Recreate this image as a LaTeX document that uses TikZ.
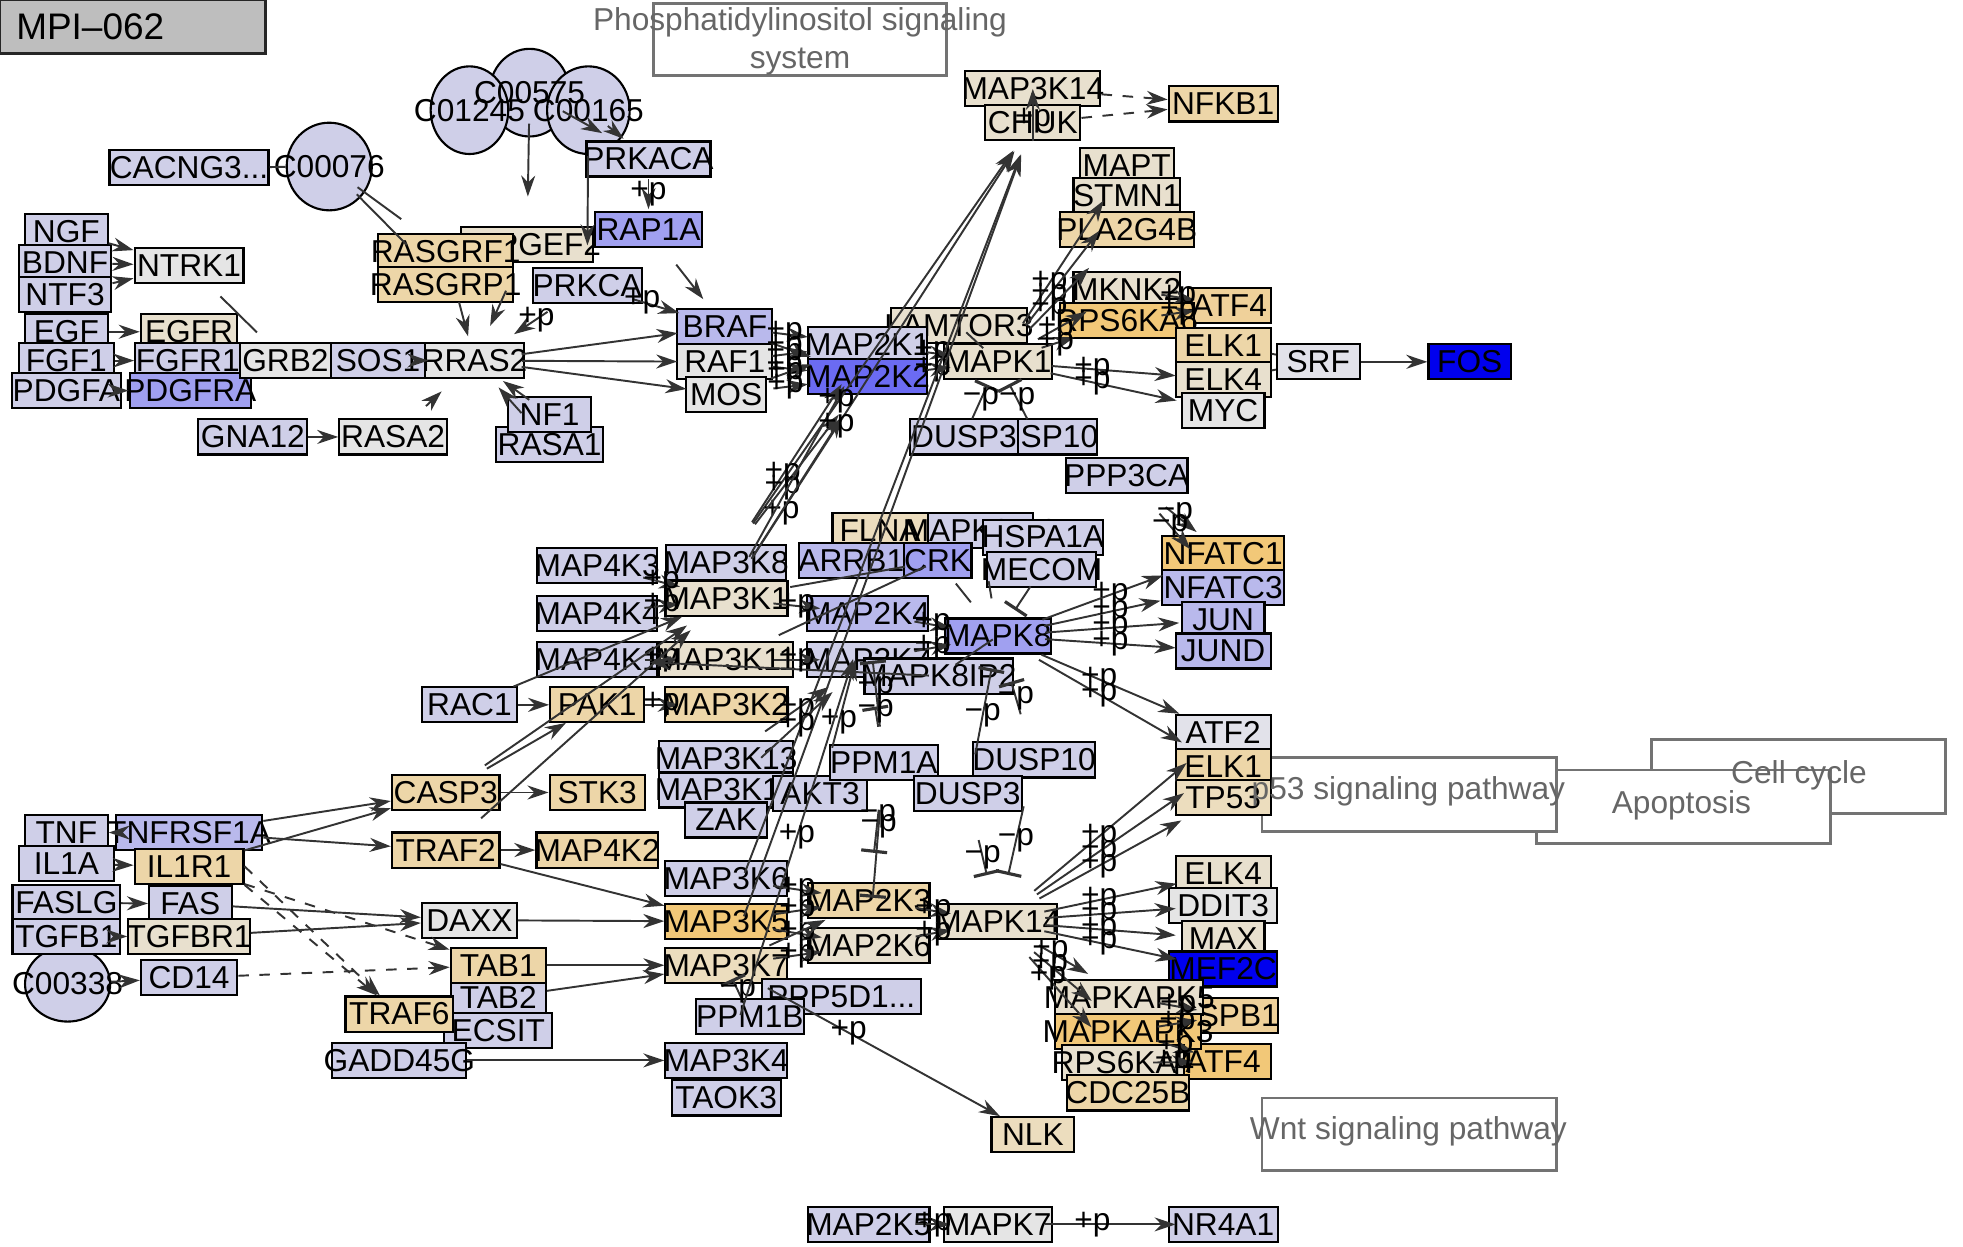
\documentclass[tikz,border=0pt]{standalone}
\usepackage{fontspec}
\setmainfont{Liberation Sans}
\usepackage{tikz}
\usetikzlibrary{arrows.meta,shapes.geometric}
\definecolor{cLav}{HTML}{CFCFE8}
\definecolor{cLavTwo}{HTML}{B9B9EC}
\definecolor{cBluOne}{HTML}{A0A0F0}
\definecolor{cBluTwo}{HTML}{6B6BF2}
\definecolor{cBluThree}{HTML}{0000EE}
\definecolor{cGry}{HTML}{E5E5E5}
\definecolor{cGryTwo}{HTML}{E2E2EA}
\definecolor{cBge}{HTML}{E8E0CE}
\definecolor{cTan}{HTML}{EDD6A8}
\definecolor{cTanTwo}{HTML}{ECDDBE}
\definecolor{cOrg}{HTML}{F2C878}
\definecolor{cOrgTwo}{HTML}{EFD19A}
\definecolor{cTtl}{HTML}{BEBEBE}
\definecolor{lineG}{HTML}{333333}
\newcommand\gfont{\fontsize{9pt}{9.5pt}\selectfont}
\newcommand\pfont{\fontsize{9pt}{10.8pt}\selectfont}
\newcommand\tfont{\fontsize{10.5pt}{12pt}\selectfont}
\tikzset{
  bw/.style={minimum width=#1*0.125mm},
  bh/.style={minimum height=#1*0.125mm},
  gene/.style={rectangle, draw=black, line width=0.6pt, fill=#1, minimum height=3.5mm, inner xsep=-12mm, inner ysep=0pt, font=\gfont},
  cpd/.style={ellipse, draw=black, line width=0.6pt, fill=cLav, inner xsep=-12mm, inner ysep=0pt, font=\gfont},
  pway/.style={rectangle, draw=black!55, line width=0.8pt, fill=white},
  ptxt/.style={font=\pfont, text=black!60, inner sep=0pt, align=center},
  ttl/.style={rectangle, draw=black!85, line width=0.8pt, fill=cTtl, font=\tfont, inner xsep=1.625mm, inner ysep=0pt, text width=23.25mm, align=left},
  ar/.style={draw=lineG, line width=0.55pt, -{Stealth[length=2.1mm, width=1.4mm]}},
  inh/.style={draw=lineG, line width=0.55pt, -{Bar[width=2.6mm, line width=0.9pt]}},
  ln/.style={draw=lineG, line width=0.55pt},
  cc/.style={shorten <=4.75mm, shorten >=4.75mm},
  lab/.style={font=\gfont, inner sep=0pt}
}
\begin{document}
\begin{tikzpicture}[x=0.125mm, y=-0.125mm]
  \useasboundingbox (0,0) rectangle (1568,996);
  \node[pway, bw=235, bh=59] (cellcyc) at (1436.5,620.5) {};
  \node[pway, bw=235, bh=59] (apopt) at (1344.5,644.5) {};
  \node[pway, bw=235, bh=59] (ptfs) at (1125.5,634.5) {};
  \node[pway, bw=235, bh=58] (wnt) at (1125.5,906) {};
  \node[pway, bw=234, bh=57] (pisys) at (639,31.5) {};
  \node[ttl, bh=43] (title) at (106,21.5) {MPI–062};

  \node[cpd, bw=64, bh=70] (C00575) at (423,74) {};
  \node[cpd, bw=62, bh=70] (C01245) at (375,88) {};
  \node[cpd, bw=66, bh=70] (C00165) at (470,88) {};
  \node[lab] (C00575t) at (C00575) {C00575};
  \node[lab] (C01245t) at (C01245) {C01245};
  \node[lab] (C00165t) at (C00165) {C00165};
  \node[cpd, bw=68, bh=70] (C00076) at (263,133) {C00076};
  \node[cpd, bw=68, bh=60] (C00338) at (54,786) {C00338};

  \node[gene=cLav, bw=66] (NGF) at (53,185) {NGF};
  \node[gene=cLav, bw=74] (BDNF) at (52,210) {BDNF};
  \node[gene=cLav, bw=74] (NTF3) at (52,235) {NTF3};
  \node[gene=cGry, bw=87] (NTRK1) at (151,212) {NTRK1};
  \node[gene=cLav, bw=66] (EGF) at (53,265) {EGF};
  \node[gene=cBge, bw=77] (EGFR) at (151,265) {EGFR};
  \node[gene=cLav, bw=76] (FGF1) at (53,288) {FGF1};
  \node[gene=cLav, bw=84] (FGFR1) at (150,288) {FGFR1};
  \node[gene=cLav, bw=87] (PDGFA) at (53,312) {PDGFA};
  \node[gene=cBluOne, bw=97] (PDGFRA) at (152,312) {PDGFRA};
  \node[gene=cGry, bw=73] (GRB2) at (228,288) {GRB2};
  \node[gene=cLav, bw=75] (SOS1) at (302,288) {SOS1};
  \node[gene=cGry, bw=79] (RRAS2) at (379,288) {RRAS2};
  \node[gene=cLav, bw=87] (GNA12) at (202,349) {GNA12};
  \node[gene=cGry, bw=86] (RASA2) at (314,349) {RASA2};
  \node[gene=cLav, bw=86] (RASA1) at (439,355) {RASA1};
  \node[gene=cLav, bw=66] (NF1) at (439,331) {NF1};
  \node[gene=cLav, bw=127] (CACNG3) at (151,134) {CACNG3...};
  \node[gene=cBge, bw=106] (RAPGEF2) at (421,195) {RAPGEF2};
  \node[gene=cTan, bw=108] (RASGRF1) at (356,201) {RASGRF1};
  \node[gene=cTan, bw=108] (RASGRP1) at (356,227) {RASGRP1};
  \node[gene=cLav, bw=99] (PRKACA) at (518,127) {PRKACA};
  \node[gene=cBluOne, bw=86] (RAP1A) at (518,183) {RAP1A};
  \node[gene=cLav, bw=87] (PRKCA) at (469,228) {PRKCA};
  \node[gene=cLavTwo, bw=76] (BRAF) at (579,261) {BRAF};
  \node[gene=cGry, bw=76] (RAF1) at (579,289) {RAF1};
  \node[gene=cGry, bw=64] (MOS) at (580,315) {MOS};
  \node[gene=cBge, bw=108] (LAMTOR3) at (766,260) {LAMTOR3};
  \node[gene=cLav, bw=95] (MAP2K1) at (693,275) {MAP2K1};
  \node[gene=cBluTwo, bw=95] (MAP2K2) at (693,301) {MAP2K2};
  \node[gene=cBge, bw=86] (MAPK1) at (797,289) {MAPK1};
  \node[gene=cBge, bw=108] (MAP3K14) at (825,71) {MAP3K14};
  \node[gene=cBge, bw=76] (CHUK) at (825,98) {CHUK};
  \node[gene=cTan, bw=87] (NFKB1) at (977,83) {NFKB1};
  \node[gene=cBge, bw=75] (MAPT) at (900,132) {MAPT};
  \node[gene=cBge, bw=85] (STMN1) at (900,156) {STMN1};
  \node[gene=cTan, bw=107] (PLA2G4B) at (900,183) {PLA2G4B};
  \node[gene=cOrgTwo, bw=66] (ATF4a) at (982,244) {ATF4};
  \node[gene=cBge, bw=85] (MKNK2) at (900,231) {MKNK2};
  \node[gene=cOrg, bw=107] (RPS6KA6) at (900,256) {RPS6KA6};
  \node[gene=cTan, bw=76] (ELK1a) at (977,276) {ELK1};
  \node[gene=cBge, bw=76] (ELK4a) at (977,303) {ELK4};
  \node[gene=cGry, bw=66] (MYC) at (977,328) {MYC};
  \node[gene=cGryTwo, bw=66] (SRF) at (1053,289) {SRF};
  \node[gene=cBluThree, bw=66] (FOS) at (1174,289) {FOS};
  \node[gene=cLav, bw=96] (DUSP10a) at (828,349) {DUSP10};
  \node[gene=cLav, bw=86] (DUSP3a) at (770,349) {DUSP3};
  \node[gene=cLav, bw=97] (PPP3CA) at (900,380) {PPP3CA};
  \node[gene=cTanTwo, bw=76] (FLNA) at (703,424) {FLNA};
  \node[gene=cLav, bw=84] (MAPK8IP3) at (783,424) {MAPK8IP3};
  \node[gene=cLav, bw=96] (HSPA1A) at (833,429) {HSPA1A};
  \node[gene=cLav, bw=87] (MECOM) at (832,455) {MECOM};
  \node[gene=cLavTwo, bw=84] (ARRB1) at (680,448) {ARRB1};
  \node[gene=cBluOne, bw=54] (CRK) at (749,448) {CRK};
  \node[gene=cLav, bw=96] (MAP4K3) at (477,452) {MAP4K3};
  \node[gene=cLav, bw=96] (MAP3K8) at (580,449) {MAP3K8};
  \node[gene=cBge, bw=98] (MAP3K1) at (580,478) {MAP3K1};
  \node[gene=cLav, bw=96] (MAP4K4) at (477,490) {MAP4K4};
  \node[gene=cLavTwo, bw=97] (MAP2K4) at (693,490) {MAP2K4};
  \node[gene=cBluOne, bw=85] (MAPK8) at (797,508) {MAPK8};
  \node[gene=cLav, bw=96] (MAP4K1) at (477,527) {MAP4K1};
  \node[gene=cBge, bw=107] (MAP3K11) at (580,527) {MAP3K11};
  \node[gene=cLav, bw=97] (MAP2K7) at (693,527) {MAP2K7};
  \node[gene=cLav, bw=119] (MAPK8IP2) at (750,540) {MAPK8IP2};
  \node[gene=cOrg, bw=97] (NFATC1) at (977,442) {NFATC1};
  \node[gene=cLavTwo, bw=97] (NFATC3) at (977,469) {NFATC3};
  \node[gene=cLavTwo, bw=66] (JUN) at (977,495) {JUN};
  \node[gene=cLavTwo, bw=76] (JUND) at (977,520) {JUND};
  \node[gene=cLav, bw=76] (RAC1) at (375,563) {RAC1};
  \node[gene=cTan, bw=75] (PAK1) at (477,563) {PAK1};
  \node[gene=cTan, bw=98] (MAP3K2) at (580,563) {MAP3K2};
  \node[gene=cLav, bw=107] (MAP3K13) at (580,606) {MAP3K13};
  \node[gene=cLav, bw=107] (MAP3K12) at (580,631) {MAP3K12};
  \node[gene=cLav, bw=65] (ZAK) at (580,655) {ZAK};
  \node[gene=cLav, bw=75] (AKT3) at (655,634) {AKT3};
  \node[gene=cLav, bw=86] (PPM1A) at (706,609) {PPM1A};
  \node[gene=cLav, bw=97] (DUSP10b) at (826,607) {DUSP10};
  \node[gene=cLav, bw=86] (DUSP3b) at (773,634) {DUSP3};
  \node[gene=cGryTwo, bw=76] (ATF2) at (977,585) {ATF2};
  \node[gene=cTan, bw=76] (ELK1b) at (977,612) {ELK1};
  \node[gene=cTanTwo, bw=76] (TP53) at (977,637) {TP53};
  \node[gene=cTan, bw=86] (CASP3) at (356,633) {CASP3};
  \node[gene=cTan, bw=76] (STK3) at (477,633) {STK3};
  \node[gene=cTan, bw=86] (TRAF2) at (356,679) {TRAF2};
  \node[gene=cTan, bw=97] (MAP4K2) at (477,679) {MAP4K2};
  \node[gene=cLav, bw=66] (TNF) at (53,665) {TNF};
  \node[gene=cLavTwo, bw=117] (TNFRSF1A) at (151,665) {TNFRSF1A};
  \node[gene=cLav, bw=76] (IL1A) at (53,690) {IL1A};
  \node[gene=cTan, bw=87] (IL1R1) at (151,692) {IL1R1};
  \node[gene=cLav, bw=86] (FASLG) at (53,721) {FASLG};
  \node[gene=cLav, bw=66] (FAS) at (152,722) {FAS};
  \node[gene=cLav, bw=86] (TGFB1) at (53,748) {TGFB1};
  \node[gene=cBge, bw=97] (TGFBR1) at (151,748) {TGFBR1};
  \node[gene=cLav, bw=77] (CD14) at (151,781) {CD14};
  \node[gene=cGry, bw=76] (DAXX) at (375,735) {DAXX};
  \node[gene=cLav, bw=76] (TAB2) at (398,797) {TAB2};
  \node[gene=cTan, bw=76] (TAB1) at (398,771) {TAB1};
  \node[gene=cLav, bw=86] (ECSIT) at (398,823) {ECSIT};
  \node[gene=cTan, bw=86] (TRAF6) at (319,810) {TRAF6};
  \node[gene=cLav, bw=107] (GADD45G) at (319,847) {GADD45G};
  \node[gene=cLav, bw=97] (MAP3K6) at (580,702) {MAP3K6};
  \node[gene=cOrg, bw=97] (MAP3K5) at (580,736) {MAP3K5};
  \node[gene=cTanTwo, bw=97] (MAP3K7) at (580,771) {MAP3K7};
  \node[gene=cTan, bw=97] (MAP2K3) at (694,719) {MAP2K3};
  \node[gene=cBge, bw=97] (MAP2K6) at (694,755) {MAP2K6};
  \node[gene=cBge, bw=95] (MAPK14) at (797,736) {MAPK14};
  \node[gene=cLav, bw=127] (PPP5D1) at (672,796) {PPP5D1...};
  \node[gene=cLav, bw=86] (PPM1B) at (599,812) {PPM1B};
  \node[gene=cLav, bw=97] (MAP3K4) at (580,847) {MAP3K4};
  \node[gene=cLav, bw=87] (TAOK3) at (580,877) {TAOK3};
  \node[gene=cTanTwo, bw=66] (NLK) at (825,906) {NLK};
  \node[gene=cLav, bw=97] (MAP2K5) at (694,978) {MAP2K5};
  \node[gene=cGry, bw=86] (MAPK7) at (797,978) {MAPK7};
  \node[gene=cLav, bw=87] (NR4A1) at (977,978) {NR4A1};
  \node[gene=cBge, bw=76] (ELK4b) at (977,698) {ELK4};
  \node[gene=cGry, bw=86] (DDIT3) at (977,723) {DDIT3};
  \node[gene=cBge, bw=66] (MAX) at (977,750) {MAX};
  \node[gene=cBluThree, bw=86] (MEF2C) at (977,774) {MEF2C};
  \node[gene=cOrgTwo, bw=81] (HSPB1) at (980,811) {HSPB1};
  \node[gene=cOrg, bw=76] (ATF4b) at (977,848) {ATF4};
  \node[gene=cBge, bw=118] (MAPKAPK5) at (902,797) {MAPKAPK5};
  \node[gene=cOrg, bw=117] (MAPKAPK3) at (901,824) {MAPKAPK3};
  \node[gene=cBge, bw=97] (RPS6KA4) at (897,849) {RPS6KA4};
  \node[gene=cTan, bw=97] (CDC25B) at (901,873) {CDC25B};

  \node[ptxt] (cellcyct) at (1437,619) {Cell cycle};
  \node[ptxt] (apoptt) at (1343,643) {Apoptosis};
  \node[ptxt] (ptfst) at (1125,632) {p53 signaling pathway};
  \node[ptxt] (wntt) at (1125,904) {Wnt signaling pathway};
  \node[ptxt] (pisyst) at (639,33) {Phosphatidylinositol signaling\\system};

  \draw[ar] (NGF) -- (NTRK1);
  \draw[ar] (BDNF) -- (NTRK1);
  \draw[ar] (NTF3) -- (NTRK1);
  \draw[ar] (EGF) -- (EGFR);
  \draw[ar] (FGF1) -- (FGFR1);
  \draw[ar] (PDGFA) -- (PDGFRA);
  \draw[ar] (GNA12) -- (RASA2);
  \draw[ln] (CACNG3) -- (C00076);
  \draw[ln, shorten <=4.4mm, shorten >=4mm] (NTRK1.center) -- (GRB2.center);
  \draw[ln, shorten <=3.5mm, shorten >=5.5mm] (C00076.center) -- (RASGRF1.center);
  \draw[ln, shorten <=3.9mm, shorten >=5.5mm] (C00076.center) -- (RASGRP1.center);
  \draw[ar, shorten <=3.1mm, shorten >=4.75mm] (C00575.center) -- (RAPGEF2.center);
  \draw[ar, shorten <=3.8mm, shorten >=5.3mm] (C00575.center) -- (PRKACA.center);
  \draw[ar, shorten <=2.5mm, shorten >=3.2mm] (C00165.center) -- (PRKACA.center);
  \draw[ar, shorten <=4.6mm, shorten >=4mm] (C00165.center) -- (PRKCA.center);
  \draw[ar, shorten <=2mm, shorten >=2mm] (PRKACA.center) -- node[lab]{+p} (RAP1A.center);
  \draw[ar, shorten <=4.5mm, shorten >=3.5mm] (RAP1A.center) -- (BRAF.center);
  \draw[ar, cc] (PRKCA.center) -- node[lab, pos=.4]{+p} (BRAF.center);
  \draw[ar, cc] (PRKCA.center) -- node[lab, pos=.45]{+p} (RRAS2.center);
  \draw[ar, shorten <=5.2mm, shorten >=2.5mm] (RASGRF1.center) -- (RRAS2.center);
  \draw[ar, shorten <=5.1mm, shorten >=3.8mm] (RAPGEF2.center) -- (RRAS2.center);
  \draw[ar, shorten <=2.5mm, shorten >=3.5mm] (NF1.center) -- (RRAS2.center);
  \draw[ar, shorten <=4.2mm, shorten >=3.6mm] (RASA1.center) -- (RRAS2.center);
  \draw[ar, shorten <=4.5mm, shorten >=4.5mm] (RASA2.center) -- (RRAS2.center);
  \draw[ar, shorten <=4.4mm, shorten >=4.6mm] (SOS1.center) -- (RRAS2.center);
  \draw[ar, cc] (RRAS2.center) -- (BRAF.center);
  \draw[ar, cc] (RRAS2.center) -- (RAF1.center);
  \draw[ar, cc, shorten >=4mm] (RRAS2.center) -- (MOS.center);

  \draw[ar, cc, shorten >=6mm] (BRAF.center) -- node[lab, pos=.42]{+p} (MAP2K1.center);
  \draw[ar, cc, shorten >=6mm] (BRAF.center) -- node[lab, pos=.42]{+p} (MAP2K2.center);
  \draw[ar, cc, shorten >=6mm] (RAF1.center) -- node[lab, pos=.42]{+p} (MAP2K1.center);
  \draw[ar, cc, shorten >=6mm] (RAF1.center) -- node[lab, pos=.42]{+p} (MAP2K2.center);
  \draw[ar, cc, shorten >=6mm] (MOS.center) -- node[lab, pos=.42]{+p} (MAP2K1.center);
  \draw[ar, cc, shorten >=6mm] (MOS.center) -- node[lab, pos=.42]{+p} (MAP2K2.center);
  \draw[ar, cc, shorten <=6mm] (MAP2K1.center) -- node[lab]{+p} (MAPK1.center);
  \draw[ar, cc, shorten <=6mm] (MAP2K2.center) -- node[lab]{+p} (MAPK1.center);
  \draw[ln, shorten <=1mm, shorten >=2mm] (LAMTOR3.center) -- (MAPK1.center);
  \draw[ar, shorten <=4.6mm, shorten >=4.2mm] (MAPK1.center) -- node[lab, pos=.4]{+p} (MAPT.center);
  \draw[ar, shorten <=4.6mm, shorten >=4.5mm] (MAPK1.center) -- node[lab, pos=.4]{+p} (STMN1.center);
  \draw[ar, shorten <=4.6mm, shorten >=5.4mm] (MAPK1.center) -- node[lab, pos=.4]{+p} (PLA2G4B.center);
  \draw[ar, shorten <=4.6mm, shorten >=4.6mm] (MAPK1.center) -- node[lab, pos=.45]{+p} (MKNK2.center);
  \draw[ar, shorten <=4.6mm, shorten >=5.5mm] (MAPK1.center) -- node[lab, pos=.45]{+p} (RPS6KA6.center);
  \draw[ar, shorten <=3.5mm, shorten >=3.5mm] (MKNK2.center) -- node[lab]{+p} (ATF4a.center);
  \draw[ar, shorten <=3.5mm, shorten >=3.5mm] (RPS6KA6.center) -- node[lab]{+p} (ATF4a.center);
  \draw[ar, cc, shorten <=5.4mm] (MAPK1.center) -- node[lab, pos=.42]{+p} (ELK4a.center);
  \draw[ar, cc, shorten <=5.4mm] (MAPK1.center) -- node[lab, pos=.42]{+p} (MYC.center);
  \draw[ln] (ELK1a) -- (SRF);
  \draw[ln] (ELK4a) -- (SRF);
  \draw[ar] (SRF) -- (FOS);
  \draw[inh, shorten <=2mm, shorten >=2.5mm] (DUSP3a.center) -- node[lab]{−p} (MAPK1.center);
  \draw[inh, shorten <=2mm, shorten >=2.5mm] (DUSP10a.center) -- node[lab]{−p} (MAPK1.center);

  \draw[ar, dashed] (MAP3K14) -- (NFKB1);
  \draw[ar, dashed] (CHUK) -- (NFKB1);
  \draw[ar] (CHUK.south) -- node[lab, pos=.4]{+p} (MAP3K14.center);
  \draw[ar, shorten <=4.7mm, shorten >=3.4mm] (MAP3K8.center) -- (CHUK.center);
  \draw[ar, shorten <=4.7mm, shorten >=3.4mm] (MAP3K1.center) -- node[lab, pos=.18]{+p} (CHUK.center);
  \draw[ar, shorten <=5.2mm, shorten >=3.4mm] (MAP3K5.center) -- (CHUK.center);
  \draw[ar, shorten <=5.2mm, shorten >=3.4mm] (MAP3K7.center) -- (CHUK.center);
  \draw[ar, cc] (MAP3K8.center) -- node[lab, pos=.4]{+p} (MAP2K1.center);
  \draw[ar, cc] (MAP3K8.center) -- node[lab, pos=.4]{+p} (MAP2K2.center);
  \draw[ar, cc] (MAP3K1.center) -- node[lab, pos=.78]{+p} (MAP2K1.center);
  \draw[ar, cc] (MAP3K1.center) -- node[lab, pos=.78]{+p} (MAP2K2.center);

  \draw[ar, cc] (MAP4K3.center) -- node[lab]{+p} (MAP3K1.center);
  \draw[ar, cc] (MAP4K4.center) -- node[lab]{+p} (MAP3K1.center);
  \draw[ar, cc] (MAP4K1.center) -- node[lab]{+p} (MAP3K11.center);
  \draw[ar, shorten <=1mm, shorten >=5.25mm] (MAPK8IP2.center) -- (MAP4K1.center);
  \draw[ar, cc] (MAP3K1.center) -- node[lab]{+p} (MAP2K4.center);
  \draw[ar, cc] (MAP3K11.center) -- node[lab]{+p} (MAP2K7.center);
  \draw[ar, cc] (MAP2K4.center) -- node[lab]{+p} (MAPK8.center);
  \draw[ar, cc] (MAP2K7.center) -- node[lab]{+p} (MAPK8.center);
  \draw[ln, shorten <=2mm, shorten >=0.6mm] (MAPK8IP2.center) -- (MAPK8.center);
  \draw[ln, shorten <=3.3mm, shorten >=6.5mm] (CRK.center) -- (MAP3K1.center);
  \draw[ln, shorten <=1.3mm, shorten >=5.8mm] (CRK.center) -- (MAP3K11.center);
  \draw[ln, shorten <=2.9mm, shorten >=4.3mm] (CRK.center) -- (MAPK8.center);
  \draw[ln, shorten <=5.1mm, shorten >=3.8mm] (MAPK8IP3.center) -- (MAPK8.center);
  \draw[inh, shorten <=2mm, shorten >=3.1mm] (MECOM.center) -- (MAPK8.center);
  \draw[ar, cc, shorten >=6.4mm] (MAPK8.center) -- node[lab]{+p} (NFATC1.center);
  \draw[ar, cc, shorten >=6.4mm] (MAPK8.center) -- node[lab]{+p} (NFATC3.center);
  \draw[ar, cc, shorten >=4.4mm] (MAPK8.center) -- node[lab]{+p} (JUN.center);
  \draw[ar, cc] (MAPK8.center) -- node[lab]{+p} (JUND.center);
  \draw[ar, cc] (MAPK8.center) -- node[lab, pos=.45]{+p} (ATF2.center);
  \draw[ar, cc] (MAPK8.center) -- node[lab, pos=.45]{+p} (ELK1b.center);
  \draw[ar, shorten <=5mm, shorten >=3.4mm] (PPP3CA.center) -- node[lab]{−p} (NFATC1.center);
  \draw[ar, shorten <=5mm, shorten >=5mm] (PPP3CA.center) -- node[lab, pos=.45]{−p} (NFATC3.center);
  \draw[inh, cc] (DUSP10b.center) -- node[lab]{−p} (MAPK8.center);
  \draw[inh, shorten <=4mm, shorten >=3.3mm] (DUSP3b.center) -- node[lab]{−p} (MAPK8.center);
  \draw[inh, cc] (DUSP10b.center) -- node[lab]{−p} (MAPK14.center);
  \draw[inh, cc] (DUSP3b.center) -- node[lab]{−p} (MAPK14.center);
  \draw[inh, shorten <=3.6mm, shorten >=4.75mm] (PPM1A.center) -- node[lab]{−p} (MAP2K4.center);
  \draw[inh, shorten <=3.6mm, shorten >=4.75mm] (PPM1A.center) -- node[lab]{−p} (MAP2K7.center);
  \draw[inh, cc] (PPM1A.center) -- node[lab, pos=.39]{−p} (MAP2K3.center);
  \draw[inh, cc] (PPM1A.center) -- node[lab, pos=.35]{−p} (MAP2K6.center);
  \draw[inh, shorten <=1.5mm, shorten >=1.5mm] (PPM1B.center) -- node[lab]{−p} (MAP3K7.center);

  \draw[ar] (RAC1) -- (PAK1);
  \draw[ar, cc] (RAC1.center) -- (MAP3K1.center);
  \draw[ar, cc] (PAK1.center) -- node[lab]{+p} (MAP3K2.center);
  \draw[ar, shorten <=4.75mm, shorten >=3.6mm] (CASP3.center) -- (PAK1.center);
  \draw[ar, cc] (CASP3.center) -- (MAP3K1.center);
  \draw[ar, cc] (TRAF2.center) -- (MAP3K1.center);
  \draw[ar] (CASP3) -- (STK3);
  \draw[ar] (TRAF2) -- (MAP4K2);
  \draw[ar] (TNFRSF1A) -- (TNF);
  \draw[ar] (IL1A) -- (IL1R1);
  \draw[ar] (FASLG) -- (FAS);
  \draw[ar] (TGFB1) -- (TGFBR1);
  \draw[ar] (C00338) -- (CD14);
  \draw[ar] (TNFRSF1A) -- (CASP3);
  \draw[ar] (IL1R1) -- (CASP3);
  \draw[ar] (TNFRSF1A) -- (TRAF2);
  \draw[ar] (TRAF2) -- (MAP3K5);
  \draw[ar] (FAS) -- (DAXX);
  \draw[ar] (TGFBR1) -- (DAXX);
  \draw[ar] (DAXX) -- (MAP3K5);
  \draw[ar, dashed] (IL1R1) -- (TAB1);
  \draw[ar, dashed] (IL1R1.east) -- (TRAF6);
  \draw[ar, dashed] (IL1R1.south east) -- (TRAF6);
  \draw[ar, dashed] (CD14) -- (TAB1);
  \draw[ar] (TAB1) -- (MAP3K7);
  \draw[ar] (TAB2) -- (MAP3K7);
  \draw[ar] (GADD45G) -- (MAP3K4);

  \draw[ar, cc] (MAP3K6.center) -- node[lab]{+p} (MAP2K3.center);
  \draw[ar, cc] (MAP3K5.center) -- node[lab]{+p} (MAP2K3.center);
  \draw[ar, cc] (MAP3K5.center) -- node[lab]{+p} (MAP2K6.center);
  \draw[ar, cc] (MAP3K7.center) -- (MAP2K3.center);
  \draw[ar, cc] (MAP3K7.center) -- node[lab]{+p} (MAP2K6.center);
  \draw[ar, cc] (MAP2K3.center) -- node[lab]{+p} (MAPK14.center);
  \draw[ar, cc] (MAP2K6.center) -- node[lab]{+p} (MAPK14.center);
  \draw[ar, cc] (MAP3K13.center) -- node[lab]{+p} (MAP2K7.center);
  \draw[ar, cc] (MAP3K12.center) -- node[lab]{+p} (MAP2K7.center);
  \draw[ar, cc] (AKT3.center) -- node[lab, pos=.4]{+p} (MAP2K4.center);
  \draw[ar, cc] (MAP3K4.center) -- node[lab]{+p} (MAP2K4.center);
  \draw[ar, cc, shorten >=3.75mm] (MAP3K7.center) -- node[lab, pos=.4]{+p} (NLK.center);

  \draw[ar, cc] (MAPK14.center) -- node[lab, pos=.45]{+p} (ATF2.center);
  \draw[ar, cc] (MAPK14.center) -- node[lab, pos=.45]{+p} (ELK1b.center);
  \draw[ar, cc] (MAPK14.center) -- node[lab, pos=.45]{+p} (TP53.center);
  \draw[ar, cc] (MAPK14.center) -- node[lab, pos=.45]{+p} (ELK4b.center);
  \draw[ar, cc] (MAPK14.center) -- node[lab, pos=.45]{+p} (DDIT3.center);
  \draw[ar, cc] (MAPK14.center) -- node[lab, pos=.45]{+p} (MAX.center);
  \draw[ar, cc] (MAPK14.center) -- node[lab, pos=.45]{+p} (MEF2C.center);
  \draw[ar, cc] (MAPK14.center) -- node[lab, pos=.4]{+p} (MAPKAPK5.center);
  \draw[ar, cc] (MAPK14.center) -- node[lab, pos=.4]{+p} (MAPKAPK3.center);
  \draw[ar, cc] (MAPK14.center) -- node[lab, pos=.4]{+p} (RPS6KA4.center);
  \draw[ar, shorten <=3mm, shorten >=3mm] (MAPKAPK5.center) -- node[lab]{+p} (HSPB1.center);
  \draw[ar, shorten <=3mm, shorten >=3mm] (MAPKAPK3.center) -- node[lab]{+p} (HSPB1.center);
  \draw[ar, shorten <=3mm, shorten >=3mm] (MAPKAPK3.center) -- node[lab]{+p} (ATF4b.center);
  \draw[ar, shorten <=3mm, shorten >=3mm] (RPS6KA4.center) -- node[lab]{+p} (ATF4b.center);
  \draw[ar, cc] (MAP2K5.center) -- node[lab]{+p} (MAPK7.center);
  \draw[ar, cc] (MAPK7.center) -- node[lab, pos=.42]{+p} (NR4A1.center);
\end{tikzpicture}
\end{document}
